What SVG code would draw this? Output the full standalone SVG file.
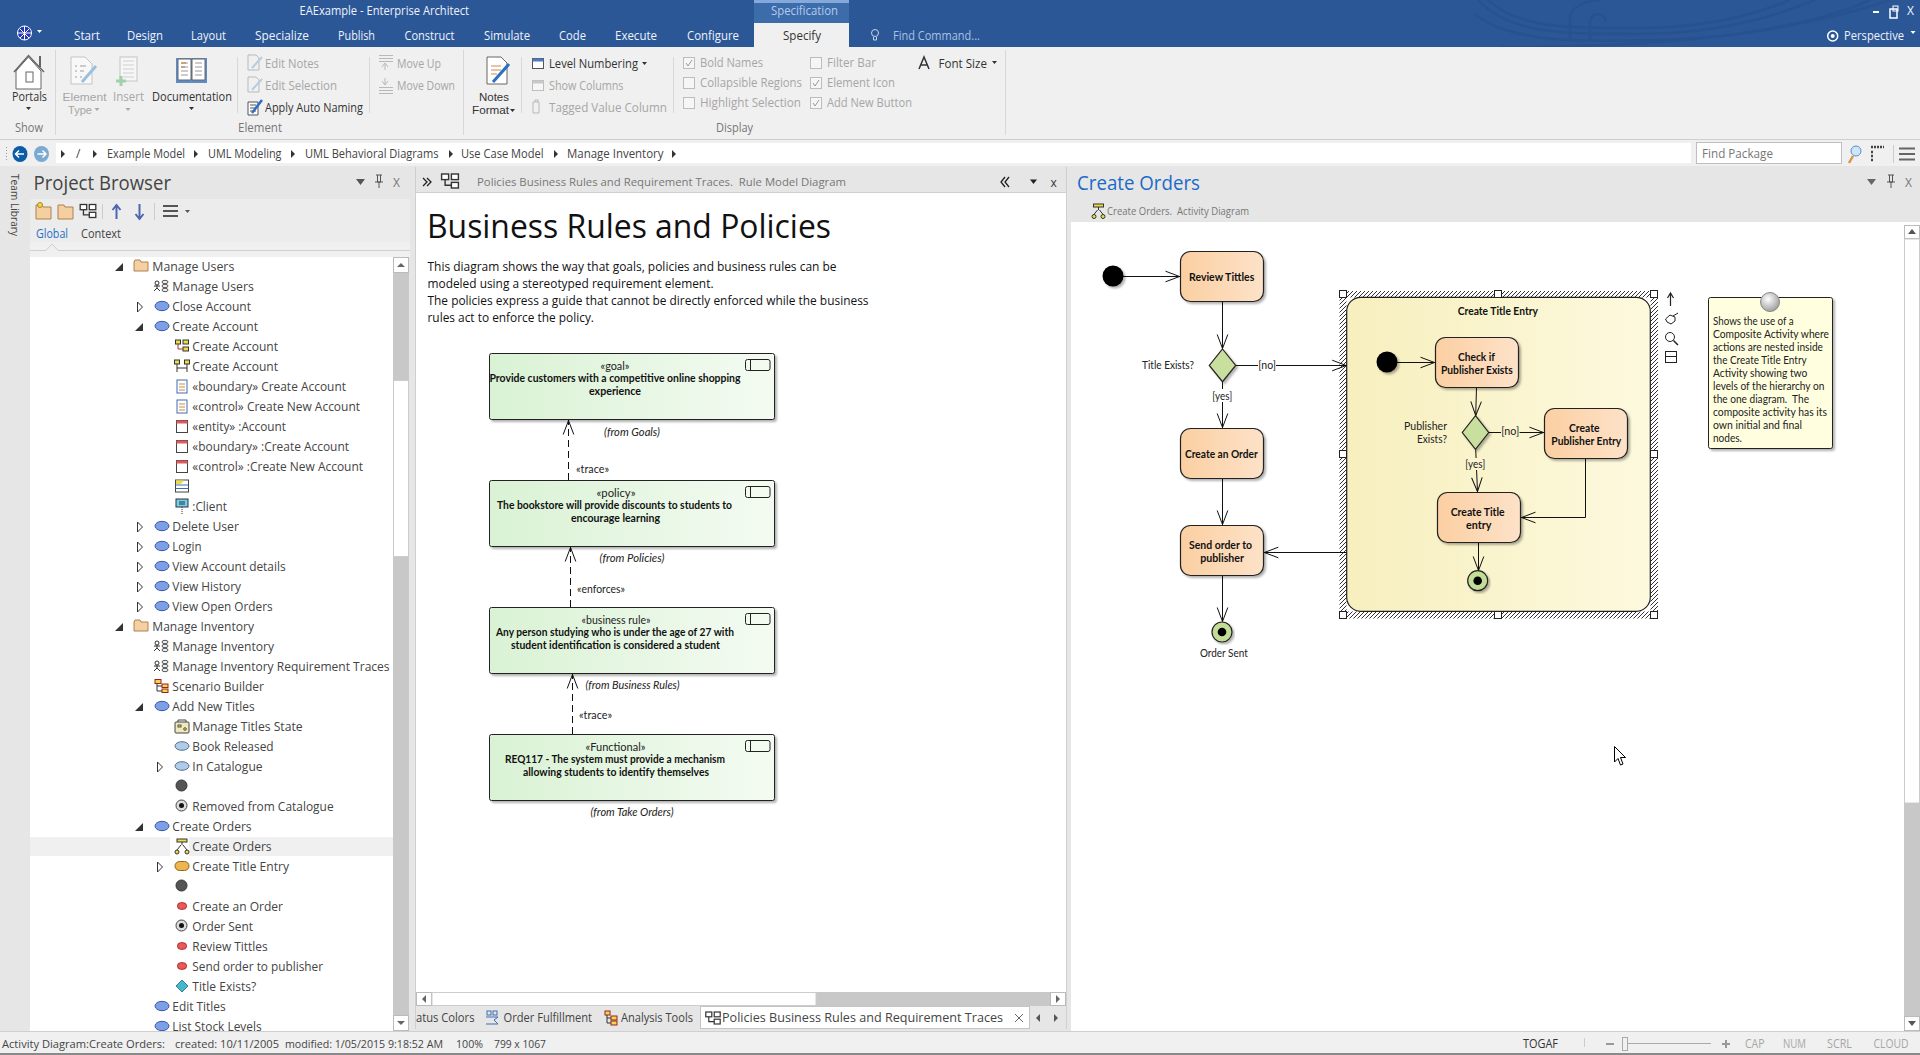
<svg xmlns="http://www.w3.org/2000/svg" width="1920" height="1055" viewBox="0 0 1920 1055">
<style>
text{font-family:"Open Sans","Noto Sans",sans-serif;font-size:12px;fill:#3c3c3c;white-space:pre}
.w{fill:#eef3fb}
.g{fill:#a6a6a6}
.m{fill:#777}
.t{fill:#444}
.ln{fill:none;stroke:#111;stroke-width:1}
.dk{fill:#333}
.sb{font-size:11px}
.two{font-family:"Liberation Sans",sans-serif;font-size:11px}
.icd{fill:none;stroke:#b9b9b9;stroke-width:1}
.cb{fill:#f6f6f6;stroke:#bdbdbd}
.n,.nb,.i{font-family:"Lato","Liberation Sans",sans-serif;fill:#111}
.n{font-size:11px;fill:#222}
.nb{font-size:11.5px;font-weight:700}
.i{font-size:11px;font-style:italic;fill:#222}
.req{fill:url(#greq);stroke:#222;stroke-width:1;filter:url(#sh)}
.act{fill:url(#gact);stroke:#222;stroke-width:1.2;filter:url(#sh)}
.dia{fill:#c9df9e;stroke:#222;stroke-width:1.2;filter:url(#sh)}
.fin{fill:#c3dd97;stroke:#222;stroke-width:1.2;filter:url(#sh)}
.hd{fill:#fff;stroke:#222;stroke-width:1}
.dep{fill:none;stroke:#111;stroke-width:1;stroke-dasharray:7 4}
</style>
<defs>
<linearGradient id="greq"><stop offset="0" stop-color="#d9f2d4"/><stop offset="1" stop-color="#f4fbf2"/></linearGradient>
<linearGradient id="gact"><stop offset="0" stop-color="#fbcfa2"/><stop offset="1" stop-color="#fde2c8"/></linearGradient>
<linearGradient id="gcmp"><stop offset="0" stop-color="#f7efbe"/><stop offset="1" stop-color="#fdf9de"/></linearGradient>
<radialGradient id="gpin" cx=".4" cy=".35" r=".7"><stop offset="0" stop-color="#fff"/><stop offset="1" stop-color="#999"/></radialGradient>
<pattern id="hatch" width="4" height="4" patternUnits="userSpaceOnUse"><path d="M-1,5 L5,-1 M-1,1 L1,-1 M3,5 L5,3" stroke="#333" stroke-width="1"/></pattern>
<filter id="sh" x="-10%" y="-10%" width="125%" height="125%"><feDropShadow dx="2" dy="2" stdDeviation="1" flood-color="#000" flood-opacity=".3"/></filter>
<marker id="op" markerUnits="userSpaceOnUse" markerWidth="18" markerHeight="14" refX="15.5" refY="7" orient="auto"><path d="M1,1.7 L15,7 L1,12.3" fill="none" stroke="#111" stroke-width="1"/></marker>
<g id="uc"><ellipse rx="7" ry="4.7" fill="#7d9fe8" stroke="#3b5a9c"/></g>
<path id="tc" d="M-2.5,-5 L2.5,0 L-2.5,5 Z" fill="#fff" stroke="#333"/>
<path id="to" d="M4,-4 L4,4 L-4,4 Z" fill="#333"/>
<g id="fld"><path d="M-7,-4 L-6,-6 L-1,-6 L0,-4 L7,-4 L7,5 L-7,5 Z" fill="#f6d0a3" stroke="#a9824f"/></g>
<g id="ucd"><circle cx="-5" cy="-3" r="2" fill="#fff" stroke="#333"/><path d="M-5,-1 V2 M-8,0 H-2 M-8,5 L-5,2 L-2,5" fill="none" stroke="#333"/><ellipse cx="3" cy="-4" rx="3" ry="1.7" fill="#eee" stroke="#555"/><ellipse cx="3" cy="0" rx="3" ry="1.7" fill="#eee" stroke="#555"/><ellipse cx="3" cy="4" rx="3" ry="1.7" fill="#eee" stroke="#555"/></g>
<g id="frm"><rect x="-5" y="-7" width="10" height="13" fill="#fff" stroke="#3f6bb3"/><path d="M-3,-3 H3 M-3,0 H3 M-3,3 H3" stroke="#c98b3d"/></g>
<g id="obj"><rect x="-5.5" y="-6.5" width="11" height="12" fill="#fff" stroke="#444"/><rect x="-5.5" y="-6.5" width="11" height="3" fill="#e05a5a"/></g>
<ellipse id="stt" rx="7" ry="4.3" fill="#afcbe9" stroke="#55708f"/>
<circle id="dot" r="5.5" fill="#555" stroke="#333"/>
<g id="fnl"><circle r="5.5" fill="#ddd" stroke="#444"/><circle r="2.5" fill="#111"/></g>
<rect id="pil" x="-4.5" y="-3.3" width="9" height="6.6" rx="3.2" fill="#ec5757" stroke="#a33"/>
<g id="pb"><rect x="-6" y="-5" width="5" height="4" fill="#fff" stroke="#333"/><rect x="1" y="-5" width="5" height="4" fill="#fff" stroke="#333"/><rect x="1" y="1" width="5" height="4" fill="#fff" stroke="#333"/><path d="M-3.5,-1 V3 H1" fill="none" stroke="#333"/></g>
</defs>

<g id="chrome-bg">
<rect width="1920" height="1055" fill="#e6e6e6"/>
<rect width="1920" height="47" fill="#2b5797"/>
<g fill="none" stroke="#28528f" stroke-width="2.5">
<path d="M1478,0 C1510,34 1560,34 1640,34 C1730,34 1790,10 1815,0"/>
<path d="M1488,0 C1520,28 1560,28 1640,28 C1720,28 1770,8 1790,0"/>
<path d="M1475,14 C1510,44 1590,42 1660,40 C1750,38 1830,18 1870,0"/>
<path d="M1500,47 C1600,47 1760,44 1890,0"/>
<path d="M1570,40 V18 C1570,8 1585,0 1600,0 M1590,40 V22 a8,8 0 0 1 16,0"/>
</g>
<rect x="754" y="0" width="95" height="23" fill="#3d6cab"/>
<rect x="754" y="0" width="95" height="3" fill="#86a9dc"/>
<rect x="754" y="23" width="95" height="24" fill="#f0f0f0"/>
<rect x="0" y="47" width="1920" height="92" fill="#f0f0f0"/>
<rect x="0" y="139" width="1920" height="1" fill="#cfcfcf"/>
<rect x="0" y="140" width="1920" height="26" fill="#f0f0f0"/>
<rect x="56" y="143" width="1635" height="20" fill="#fff"/>
<rect x="1696.5" y="142.5" width="145" height="21" fill="#fff" stroke="#bfbfbf"/>
</g>

<g id="title-bar">
<text class="w" x="299.500" y="15" textLength="169.500" lengthAdjust="spacingAndGlyphs">EAExample - Enterprise Architect</text>
<text x="771" y="15" style="fill:#b3cbea" textLength="67" lengthAdjust="spacingAndGlyphs">Specification</text>
<g fill="none" stroke="#fff"><circle cx="24.500" cy="33" r="7" fill="#2437b5"/><path d="M20,29 L29,38 M29,29 L20,38 M24.500,26 V40 M17,33 H32"/></g>
<path d="M37,30 h5 l-2.500,3 Z" fill="#fff"/>
<g class="tabs">
<text class="w" x="74" y="40" textLength="26" lengthAdjust="spacingAndGlyphs">Start</text>
<text class="w" x="127" y="40" textLength="36" lengthAdjust="spacingAndGlyphs">Design</text>
<text class="w" x="191" y="40" textLength="35" lengthAdjust="spacingAndGlyphs">Layout</text>
<text class="w" x="255" y="40" textLength="54" lengthAdjust="spacingAndGlyphs">Specialize</text>
<text class="w" x="338" y="40" textLength="37" lengthAdjust="spacingAndGlyphs">Publish</text>
<text class="w" x="404.500" y="40" textLength="50" lengthAdjust="spacingAndGlyphs">Construct</text>
<text class="w" x="484" y="40" textLength="46" lengthAdjust="spacingAndGlyphs">Simulate</text>
<text class="w" x="559" y="40" textLength="27" lengthAdjust="spacingAndGlyphs">Code</text>
<text class="w" x="615" y="40" textLength="42" lengthAdjust="spacingAndGlyphs">Execute</text>
<text class="w" x="687" y="40" textLength="52" lengthAdjust="spacingAndGlyphs">Configure</text>
<text class="dk" x="783" y="40" textLength="38" lengthAdjust="spacingAndGlyphs">Specify</text>
<text x="893" y="40" style="fill:#a9c2e4" textLength="87" lengthAdjust="spacingAndGlyphs">Find Command...</text>
</g>
<g fill="none" stroke="#c4d5ec"><circle cx="875" cy="33" r="3.500"/><path d="M873.500,37 V40 H876.500 V37"/></g>
<rect x="1873" y="11" width="6" height="2" fill="#fff"/>
<g fill="none" stroke="#fff"><rect x="1890" y="9" width="7" height="9" stroke-width="1.500"/><rect x="1893" y="6" width="5" height="5"/></g>
<text class="w" x="1907" y="15">X</text>
<g fill="none" stroke="#fff" stroke-width="1.500"><circle cx="1832.700" cy="36" r="5"/></g><circle cx="1832.700" cy="36" r="2" fill="#fff"/>
<text class="w" x="1844" y="40" textLength="60" lengthAdjust="spacingAndGlyphs">Perspective</text>
<path d="M1910.500,31 h5 l-2.500,3 Z" fill="#fff"/>
</g>

<g id="ribbon">
<path d="M55.500,50 V135 M463.500,50 V135 M1005.500,50 V135 M237.500,57 V113 M369.500,57 V113 M521.500,57 V113 M673.500,57 V113" stroke="#d8d8d8" fill="none"/>
<path d="M16,71 V89 H41 V71 L28.500,57 Z" fill="#fff" stroke="#666"/><path d="M14,72 L28.500,55.500 L44,72" fill="none" stroke="#666" stroke-width="1.500"/><path d="M40,56 V67" stroke="#666" stroke-width="2"/><rect x="26" y="72" width="7" height="10" fill="#fff" stroke="#666"/>
<path d="M71,57 H85 L92,64 V84 H71 Z" fill="#f8f8f8" stroke="#c4c4c4"/><path d="M75,66 H77 M80,66 H86 M75,71 H77 M80,71 H84 M75,77 H77 M80,77 H82" stroke="#bcbcbc" stroke-width="1.500"/><path d="M82,82 L96,66" stroke="#9cc0dc" stroke-width="3"/>
<rect x="120" y="57" width="17" height="24" fill="#f6f6f6" stroke="#c4c4c4"/><path d="M123,61 H134 M123,65 H134 M123,69 H134 M123,73 H134 M123,77 H134" stroke="#cfcfcf"/><path d="M121,76 V86 M116,81 H126" stroke="#9fd1ad" stroke-width="3"/>
<path d="M176,58 H207 V83 H176 Z" fill="#5f8cc9"/><path d="M178,59 H191 V80 H178 Z M192,59 H205 V80 H192 Z" fill="#fff" stroke="#666"/><path d="M181,63 H188 M181,67 H188 M181,71 H188 M181,75 H188 M195,63 H202 M195,67 H202 M195,71 H202 M195,75 H202" stroke="#999"/><path d="M181,63 H186 M181,67 H185" stroke="#c8743a"/>
<path d="M487,57 H501 L507,63 V84 H487 Z" fill="#fff" stroke="#666"/><path d="M491,66 H501 M491,70 H501 M491,74 H497" stroke="#d08a4c"/><path d="M493,82 L509,64" stroke="#2f6fc0" stroke-width="3"/>
<path d="M248,55 H256 L259,58 V70 H248 Z M248,77 H256 L259,80 V92 H248 Z" class="icd"/><path d="M252,68 L262,57 M252,90 L262,79" stroke="#b9cbdc" stroke-width="2"/>
<path d="M248,102 H258 V115 H248 Z" fill="#fff" stroke="#555"/><path d="M250,105 H256 M250,108 H256 M250,111 H256" stroke="#555"/><path d="M252,113 L262,100" stroke="#2f6fc0" stroke-width="2.500"/>
<path d="M379,55.500 H393 M379,58.500 H393 M379,61.500 H393 M385,70 V64 M382,67 L385,63 L388,67" class="icd"/>
<path d="M379,87.500 H393 M379,90.500 H393 M379,93.500 H393 M385,78 V84 M382,81 L385,85 L388,81" class="icd"/>
<rect x="532.500" y="58.500" width="11" height="10" fill="#fff" stroke="#555"/><rect x="532.500" y="58.500" width="11" height="3" fill="#4a7cc0"/>
<rect x="532.500" y="80.500" width="11" height="10" class="cb"/><rect x="532.500" y="80.500" width="11" height="3" fill="#c8c8c8"/>
<path d="M533,102 H539 V113 H533 Z M535,102 V100 H538 V102" class="icd"/>
<path d="M919,69 L924,57 L929,69 M921,65 H927" fill="none" stroke="#333" stroke-width="1.500"/>
<g class="dk">
<path d="M26,107 h5 l-2.500,3 Z M189,107 h5 l-2.500,3 Z"/>
<path d="M510,109 h5 l-2.500,3 Z M642,62 h5 l-2.500,3 Z M992,61 h5 l-2.500,3 Z"/>
</g>
<path d="M94.500,108 h5 l-2.500,3 Z M125.500,108 h5 l-2.500,3 Z" fill="#aaa"/>
<g class="cb"><rect x="683.500" y="57.500" width="11" height="11"/><rect x="683.500" y="77.500" width="11" height="11"/><rect x="683.500" y="97.500" width="11" height="11"/><rect x="810.500" y="57.500" width="11" height="11"/><rect x="810.500" y="77.500" width="11" height="11"/><rect x="810.500" y="97.500" width="11" height="11"/></g>
<path d="M686,63 l2,3 l4,-6 M813,83 l2,3 l4,-6 M813,103 l2,3 l4,-6" fill="none" stroke="#999"/>
<text class="dk" x="12" y="101" textLength="35" lengthAdjust="spacingAndGlyphs">Portals</text>
<text class="g two" x="62.500" y="101" textLength="44" lengthAdjust="spacingAndGlyphs">Element</text>
<text class="g two" x="68" y="114" textLength="24" lengthAdjust="spacingAndGlyphs">Type</text>
<text class="g" x="113" y="101" textLength="31" lengthAdjust="spacingAndGlyphs">Insert</text>
<text class="dk" x="152" y="101" textLength="80" lengthAdjust="spacingAndGlyphs">Documentation</text>
<text class="g" x="265" y="68" textLength="54" lengthAdjust="spacingAndGlyphs">Edit Notes</text>
<text class="g" x="265" y="90" textLength="72" lengthAdjust="spacingAndGlyphs">Edit Selection</text>
<text class="dk" x="265" y="112" textLength="98" lengthAdjust="spacingAndGlyphs">Apply Auto Naming</text>
<text class="g" x="397" y="68" textLength="44" lengthAdjust="spacingAndGlyphs">Move Up</text>
<text class="g" x="397" y="90" textLength="58" lengthAdjust="spacingAndGlyphs">Move Down</text>
<text class="dk two" x="479" y="101" textLength="30" lengthAdjust="spacingAndGlyphs">Notes</text>
<text class="dk two" x="472" y="114" textLength="37" lengthAdjust="spacingAndGlyphs">Format</text>
<text class="dk" x="549" y="68" textLength="89" lengthAdjust="spacingAndGlyphs">Level Numbering</text>
<text class="g" x="549" y="90" textLength="74.500" lengthAdjust="spacingAndGlyphs">Show Columns</text>
<text class="g" x="549" y="112" textLength="118" lengthAdjust="spacingAndGlyphs">Tagged Value Column</text>
<text class="g" x="700" y="67" textLength="63" lengthAdjust="spacingAndGlyphs">Bold Names</text>
<text class="g" x="700" y="87" textLength="102" lengthAdjust="spacingAndGlyphs">Collapsible Regions</text>
<text class="g" x="700" y="107" textLength="101" lengthAdjust="spacingAndGlyphs">Highlight Selection</text>
<text class="g" x="827" y="67" textLength="49" lengthAdjust="spacingAndGlyphs">Filter Bar</text>
<text class="g" x="827" y="87" textLength="68" lengthAdjust="spacingAndGlyphs">Element Icon</text>
<text class="g" x="827" y="107" textLength="85" lengthAdjust="spacingAndGlyphs">Add New Button</text>
<text class="dk" x="938.500" y="68" textLength="48.500" lengthAdjust="spacingAndGlyphs">Font Size</text>
<text class="m" x="15" y="132" textLength="28" lengthAdjust="spacingAndGlyphs">Show</text>
<text class="m" x="238" y="132" textLength="44" lengthAdjust="spacingAndGlyphs">Element</text>
<text class="m" x="716" y="132" textLength="37" lengthAdjust="spacingAndGlyphs">Display</text>
</g>

<g id="breadcrumb">
<path d="M6.500,147 V162" stroke="#999" stroke-dasharray="1 2"/>
<ellipse cx="20" cy="154" rx="7.500" ry="8" fill="#0b5da8"/><path d="M24,154 H16 M19,150.500 L15.500,154 L19,157.500" fill="none" stroke="#fff" stroke-width="1.500"/>
<ellipse cx="41.500" cy="154" rx="7.500" ry="8" fill="#7aaad2"/><path d="M37.500,154 H45.500 M42.500,150.500 L46,154 L42.500,157.500" fill="none" stroke="#fff" stroke-width="1.500"/>
<path d="M61,150 l4,4 l-4,4 Z M93,150 l4,4 l-4,4 Z M194,150 l4,4 l-4,4 Z M291,150 l4,4 l-4,4 Z M449,150 l4,4 l-4,4 Z M554,150 l4,4 l-4,4 Z M672,150 l4,4 l-4,4 Z" fill="#333"/>
<text class="t" x="76" y="158">/</text>
<text class="t" x="107" y="158" textLength="78" lengthAdjust="spacingAndGlyphs">Example Model</text>
<text class="t" x="208" y="158" textLength="73.500" lengthAdjust="spacingAndGlyphs">UML Modeling</text>
<text class="t" x="305" y="158" textLength="133.500" lengthAdjust="spacingAndGlyphs">UML Behavioral Diagrams</text>
<text class="t" x="461" y="158" textLength="82.500" lengthAdjust="spacingAndGlyphs">Use Case Model</text>
<text class="t" x="567" y="158" textLength="96.500" lengthAdjust="spacingAndGlyphs">Manage Inventory</text>
<text class="m" x="1702" y="158" textLength="71" lengthAdjust="spacingAndGlyphs">Find Package</text>
<circle cx="1856" cy="151" r="5" fill="#cfe4f7" stroke="#5c8fc6"/><path d="M1853,156 L1849,163" stroke="#d29a4a" stroke-width="2.500"/>
<path d="M1871,147 h13 M1871,152 h3 M1871,156 h3 M1871,160 h3" stroke="#444" stroke-width="2.500" stroke-dasharray="2 1"/>
<path d="M1893.500,145 V163" stroke="#ccc"/>
<path d="M1899,148.500 H1915 M1899,154 H1915 M1899,159.500 H1915" stroke="#666" stroke-width="2"/>
</g>

<g id="team-library-tab">
<text x="0" y="0" transform="translate(11,174) rotate(90)" class="t" style="font-size:11px" textLength="62" lengthAdjust="spacingAndGlyphs">Team Library</text>
</g>

<g id="project-browser">
<rect x="30" y="199" width="380" height="43" fill="#ececec"/>
<rect x="30" y="242" width="380" height="15" fill="#f0f0f0"/>
<path d="M30,250.500 H46 L52,244 L58,250.500 H410" fill="none" stroke="#cfcfcf"/>
<text x="33.500" y="190" style="font-size:20px;fill:#444" textLength="137.500" lengthAdjust="spacingAndGlyphs">Project Browser</text>
<path d="M356,179 h9 l-4.500,6 Z" fill="#555"/>
<path d="M376,175 h6 M377.500,175 V182 h3 V175 M375,182 h8 M379,182 V188" fill="none" stroke="#555"/>
<text class="m" x="393" y="187">X</text>
<path d="M36,205 H42 L43,207 H51 V219 H36 Z" fill="#f6cfa0" stroke="#a9824f"/><circle cx="40" cy="205" r="2.500" fill="#f2d64b" stroke="#a58b1a"/>
<path d="M58,205 H64 L65,207 H73 V219 H58 Z" fill="#f6cfa0" stroke="#a9824f"/>
<use href="#pb" transform="translate(88,211) scale(1.3)"/>
<path d="M102.500,204 V219" stroke="#ccc"/>
<path d="M116.500,219 V206 M112.500,210 L116.500,205 L120.500,210" fill="none" stroke="#4a67b0" stroke-width="2"/>
<path d="M139.500,204 V219 M135.500,214 L139.500,219 L143.500,214" fill="none" stroke="#4a67b0" stroke-width="2"/>
<path d="M154.500,203 V220" stroke="#ccc"/>
<path d="M163,206 H178 M163,211 H178 M163,216 H178" stroke="#555" stroke-width="2"/>
<path d="M185,210 h5 l-2.500,3 Z" fill="#555"/>
<text x="36" y="238" style="fill:#1e6fc8" textLength="32" lengthAdjust="spacingAndGlyphs">Global</text>
<text class="t" x="81" y="238" textLength="40" lengthAdjust="spacingAndGlyphs">Context</text>

<rect x="30" y="257" width="363" height="774" fill="#fff"/>
<rect x="393" y="257" width="16" height="774" fill="#c8c8c8"/>
<rect x="393.500" y="257.500" width="15" height="15" fill="#fff" stroke="#bbb"/><path d="M397,267 h8 l-4,-4 Z" fill="#666"/>
<rect x="393.500" y="380.500" width="15" height="176" fill="#fff" stroke="#ccc"/>
<rect x="393.500" y="1015.500" width="15" height="15" fill="#fff" stroke="#bbb"/><path d="M397,1021 h8 l-4,4 Z" fill="#666"/>
<rect x="30" y="837" width="363" height="19" fill="#f0f0f0"/>
<rect x="170" y="837" width="19" height="19" fill="#fff"/>

<g id="tree-icons">
<use href="#to" x="119" y="267"/><use href="#fld" x="141" y="266"/>
<use href="#ucd" x="162" y="286"/>
<use href="#tc" x="140" y="307"/><use href="#uc" x="162" y="306"/>
<use href="#to" x="139" y="327"/><use href="#uc" x="162" y="326"/>
<g transform="translate(182,346)"><rect x="-6.500" y="-6" width="5" height="4" fill="#e9df44" stroke="#333"/><rect x="1" y="-6" width="5.500" height="4" fill="#e9df44" stroke="#333"/><rect x="1" y="1" width="5.500" height="4" fill="#e9df44" stroke="#333"/><path d="M-4,-2 V3 H1" fill="none" stroke="#a33"/></g>
<g transform="translate(182,366)"><rect x="-7.500" y="-6" width="5" height="4" fill="#e9df44" stroke="#333"/><rect x="2.500" y="-6" width="5" height="4" fill="#e9df44" stroke="#333"/><path d="M-5,-2 V6 M5,-2 V6 M-5,2 H5" fill="none" stroke="#333"/></g>
<use href="#frm" x="182" y="387"/><use href="#frm" x="182" y="407"/>
<use href="#obj" x="182" y="427"/><use href="#obj" x="182" y="447"/><use href="#obj" x="182" y="467"/>
<g transform="translate(182,486)"><rect x="-6.500" y="-6" width="13" height="12" fill="#fff" stroke="#444"/><path d="M-6.500,-1 H6.500 M-6.500,2.500 H6.500" stroke="#3f6bb3"/><path d="M-6,-5.500 H2 L-1,-2 H-6 Z" fill="#e9df44"/></g>
<g transform="translate(182,505)"><rect x="-6" y="-6" width="12" height="8" fill="#6fd0ef" stroke="#333"/><path d="M-3,-3 H3 M-3,-1 H3" stroke="#333"/><path d="M0,2 V10" stroke="#333" stroke-dasharray="1 1"/></g>
<use href="#tc" x="140" y="527"/><use href="#uc" x="162" y="526"/>
<use href="#tc" x="140" y="547"/><use href="#uc" x="162" y="546"/>
<use href="#tc" x="140" y="567"/><use href="#uc" x="162" y="566"/>
<use href="#tc" x="140" y="587"/><use href="#uc" x="162" y="586"/>
<use href="#tc" x="140" y="607"/><use href="#uc" x="162" y="606"/>
<use href="#to" x="119" y="627"/><use href="#fld" x="141" y="626"/>
<use href="#ucd" x="162" y="646"/><use href="#ucd" x="162" y="666"/>
<g transform="translate(162,686)"><rect x="-7" y="-6.500" width="6" height="4" fill="#f2d64b" stroke="#922"/><rect x="0" y="-2" width="6" height="3.500" fill="#f2d64b" stroke="#922"/><rect x="0" y="3" width="6" height="3.500" fill="#f2d64b" stroke="#922"/><path d="M-5,-2 V5 H0 M-5,0 H0" fill="none" stroke="#333"/></g>
<use href="#to" x="139" y="707"/><use href="#uc" x="162" y="706"/>
<g transform="translate(182,727)"><rect x="-7" y="-5" width="14" height="11" rx="1" fill="#efe8bf" stroke="#444"/><path d="M-4,-5 V-7 H4 V-5" fill="none" stroke="#444"/><rect x="-4" y="-2" width="3" height="2" fill="#e9df44" stroke="#555"/><circle cx="3" cy="2" r="1.300" fill="#e9df44" stroke="#555"/></g>
<use href="#stt" x="182" y="746"/><use href="#tc" x="160" y="767"/><use href="#stt" x="182" y="766"/>
<use href="#dot" x="181.500" y="785.500"/><use href="#fnl" x="181.500" y="805.500"/>
<use href="#to" x="139" y="827"/><use href="#uc" x="162" y="826"/>
<g transform="translate(182,846)"><rect x="-5" y="-7" width="10" height="3" fill="#e9df44" stroke="#333"/><path d="M0,-4 V-1 M-1,-1 L-5,4 M1,-1 L5,4" fill="none" stroke="#333"/><circle cx="-5" cy="6" r="2" fill="#e9df44" stroke="#333"/><circle cx="5" cy="6" r="2" fill="#e9df44" stroke="#333"/></g>
<use href="#tc" x="160" y="867"/><rect x="175" y="861.500" width="14" height="9" rx="4.500" fill="#edb54e" stroke="#8a6820"/>
<use href="#dot" x="181.500" y="885.500"/><use href="#pil" x="182" y="906"/><use href="#fnl" x="181.500" y="925.500"/>
<use href="#pil" x="182" y="946"/><use href="#pil" x="182" y="966"/>
<path d="M182,980 L188,986 L182,992 L176,986 Z" fill="#46b7cf" stroke="#3a7f8f"/>
<use href="#uc" x="162" y="1006"/><use href="#uc" x="162" y="1026"/>
</g>
<g id="tree-labels">
<text class="t" x="152.300" y="271" textLength="82" lengthAdjust="spacingAndGlyphs">Manage Users</text>
<text class="t" x="172.300" y="291" textLength="81.500" lengthAdjust="spacingAndGlyphs">Manage Users</text>
<text class="t" x="172.300" y="311" textLength="78.700" lengthAdjust="spacingAndGlyphs">Close Account</text>
<text class="t" x="172.300" y="331" textLength="85.700" lengthAdjust="spacingAndGlyphs">Create Account</text>
<text class="t" x="192.300" y="351" textLength="85.700" lengthAdjust="spacingAndGlyphs">Create Account</text>
<text class="t" x="192.300" y="371" textLength="85.700" lengthAdjust="spacingAndGlyphs">Create Account</text>
<text class="t" x="192.300" y="391" textLength="153.700" lengthAdjust="spacingAndGlyphs">«boundary» Create Account</text>
<text class="t" x="192.300" y="411" textLength="167.700" lengthAdjust="spacingAndGlyphs">«control» Create New Account</text>
<text class="t" x="192.300" y="431" textLength="93.700" lengthAdjust="spacingAndGlyphs">«entity» :Account</text>
<text class="t" x="192.300" y="451" textLength="156.700" lengthAdjust="spacingAndGlyphs">«boundary» :Create Account</text>
<text class="t" x="192.300" y="471" textLength="170.700" lengthAdjust="spacingAndGlyphs">«control» :Create New Account</text>
<text class="t" x="192.300" y="511" textLength="34.700" lengthAdjust="spacingAndGlyphs">:Client</text>
<text class="t" x="172.300" y="531" textLength="66.700" lengthAdjust="spacingAndGlyphs">Delete User</text>
<text class="t" x="172.300" y="551" textLength="29.300" lengthAdjust="spacingAndGlyphs">Login</text>
<text class="t" x="172.300" y="571" textLength="113.300" lengthAdjust="spacingAndGlyphs">View Account details</text>
<text class="t" x="172.300" y="591" textLength="68.700" lengthAdjust="spacingAndGlyphs">View History</text>
<text class="t" x="172.300" y="611" textLength="100.300" lengthAdjust="spacingAndGlyphs">View Open Orders</text>
<text class="t" x="152.300" y="631" textLength="101.700" lengthAdjust="spacingAndGlyphs">Manage Inventory</text>
<text class="t" x="172.300" y="651" textLength="101.700" lengthAdjust="spacingAndGlyphs">Manage Inventory</text>
<text class="t" x="172.300" y="671" textLength="217.300" lengthAdjust="spacingAndGlyphs">Manage Inventory Requirement Traces</text>
<text class="t" x="172.300" y="691" textLength="91.700" lengthAdjust="spacingAndGlyphs">Scenario Builder</text>
<text class="t" x="172.300" y="711" textLength="82.300" lengthAdjust="spacingAndGlyphs">Add New Titles</text>
<text class="t" x="192.300" y="731" textLength="110.300" lengthAdjust="spacingAndGlyphs">Manage Titles State</text>
<text class="t" x="192.300" y="751" textLength="81.300" lengthAdjust="spacingAndGlyphs">Book Released</text>
<text class="t" x="192.300" y="771" textLength="70.300" lengthAdjust="spacingAndGlyphs">In Catalogue</text>
<text class="t" x="192.300" y="811" textLength="141.300" lengthAdjust="spacingAndGlyphs">Removed from Catalogue</text>
<text class="t" x="172.300" y="831" textLength="79.300" lengthAdjust="spacingAndGlyphs">Create Orders</text>
<text class="t" x="192.300" y="851" textLength="79.300" lengthAdjust="spacingAndGlyphs">Create Orders</text>
<text class="t" x="192.300" y="871" textLength="96.700" lengthAdjust="spacingAndGlyphs">Create Title Entry</text>
<text class="t" x="192.300" y="911" textLength="90.700" lengthAdjust="spacingAndGlyphs">Create an Order</text>
<text class="t" x="192.300" y="931" textLength="60.700" lengthAdjust="spacingAndGlyphs">Order Sent</text>
<text class="t" x="192.300" y="951" textLength="75.300" lengthAdjust="spacingAndGlyphs">Review Tittles</text>
<text class="t" x="192.300" y="971" textLength="130.700" lengthAdjust="spacingAndGlyphs">Send order to publisher</text>
<text class="t" x="192.300" y="991" textLength="64" lengthAdjust="spacingAndGlyphs">Title Exists?</text>
<text class="t" x="172.300" y="1011" textLength="53.300" lengthAdjust="spacingAndGlyphs">Edit Titles</text>
<text class="t" x="172.300" y="1031" textLength="89.300" lengthAdjust="spacingAndGlyphs">List Stock Levels</text>
</g>
</g>

<g id="center-panel">
<rect x="416" y="193" width="650" height="799" fill="#fff"/>
<path d="M415.500,167 V1029 M1066.500,167 V1029" stroke="#cfcfcf"/>
<path d="M416,192.500 H1066" stroke="#cfcfcf"/>
<path d="M423,178 L427,182 L423,186 M427,178 L431,182 L427,186" fill="none" stroke="#222" stroke-width="1.300"/>
<use href="#pb" transform="translate(450,181) scale(1.4)"/>
<text class="m" x="477" y="186" style="font-size:11.500px" textLength="369" lengthAdjust="spacingAndGlyphs">Policies Business Rules and Requirement Traces.  Rule Model Diagram</text>
<path d="M1005,177 L1001,182 L1005,187 M1009,177 L1005,182 L1009,187" fill="none" stroke="#222" stroke-width="1.300"/>
<path d="M1030,179.500 h7 l-3.500,4.500 Z" fill="#222"/>
<text class="dk" x="1050.500" y="187">x</text>
<text x="427" y="238" style="font-size:33px;fill:#111" textLength="404" lengthAdjust="spacingAndGlyphs">Business Rules and Policies</text>
<text x="427.500" y="271" style="fill:#111" textLength="409" lengthAdjust="spacingAndGlyphs">This diagram shows the way that goals, policies and business rules can be</text>
<text x="427.500" y="288" style="fill:#111" textLength="286" lengthAdjust="spacingAndGlyphs">modeled using a stereotyped requirement element.</text>
<text x="427.500" y="305" style="fill:#111" textLength="441" lengthAdjust="spacingAndGlyphs">The policies express a guide that cannot be directly enforced while the business</text>
<text x="427.500" y="322" style="fill:#111" textLength="166.500" lengthAdjust="spacingAndGlyphs">rules act to enforce the policy.</text>

<g id="rule-connectors">
<path class="dep" d="M568.500,480 V420" marker-end="url(#op)"/>
<path class="dep" d="M570.500,607 V547" marker-end="url(#op)"/>
<path class="dep" d="M572.500,734 V674" marker-end="url(#op)"/>
<text class="n" x="576" y="472.500" textLength="33" lengthAdjust="spacingAndGlyphs">«trace»</text>
<text class="n" x="577" y="592.500" textLength="48" lengthAdjust="spacingAndGlyphs">«enforces»</text>
<text class="n" x="579" y="718.500" textLength="33" lengthAdjust="spacingAndGlyphs">«trace»</text>
</g>
<g id="req-goal">
<rect class="req" x="489.500" y="353.500" width="285" height="66" rx="2"/>
<rect x="745.500" y="359.500" width="24.500" height="11" rx="2" fill="none" stroke="#222"/><path d="M750.500,359.500 V370.500" stroke="#222"/>
<text class="n" x="600.500" y="369.500" textLength="29" lengthAdjust="spacingAndGlyphs">«goal»</text>
<text class="nb" x="489.500" y="382" textLength="251" lengthAdjust="spacingAndGlyphs">Provide customers with a competitive online shopping</text>
<text class="nb" x="589" y="395" textLength="52" lengthAdjust="spacingAndGlyphs">experience</text>
<text class="i" x="604" y="435.500" textLength="56" lengthAdjust="spacingAndGlyphs">(from Goals)</text>
</g>
<g id="req-policy">
<rect class="req" x="489.500" y="480.500" width="285" height="66" rx="2"/>
<rect x="745.500" y="486.500" width="24.500" height="11" rx="2" fill="none" stroke="#222"/><path d="M750.500,486.500 V497.500" stroke="#222"/>
<text class="n" x="596.500" y="496.500" textLength="39" lengthAdjust="spacingAndGlyphs">«policy»</text>
<text class="nb" x="497" y="509" textLength="235" lengthAdjust="spacingAndGlyphs">The bookstore will provide discounts to students to</text>
<text class="nb" x="571" y="522" textLength="89" lengthAdjust="spacingAndGlyphs">encourage learning</text>
<text class="i" x="599.500" y="562" textLength="65" lengthAdjust="spacingAndGlyphs">(from Policies)</text>
</g>
<g id="req-rule">
<rect class="req" x="489.500" y="607.500" width="285" height="66" rx="2"/>
<rect x="745.500" y="613.500" width="24.500" height="11" rx="2" fill="none" stroke="#222"/><path d="M750.500,613.500 V624.500" stroke="#222"/>
<text class="n" x="581.500" y="623.500" textLength="69" lengthAdjust="spacingAndGlyphs">«business rule»</text>
<text class="nb" x="496" y="636" textLength="238" lengthAdjust="spacingAndGlyphs">Any person studying who is under the age of 27 with</text>
<text class="nb" x="511" y="649" textLength="209" lengthAdjust="spacingAndGlyphs">student identification is considered a student</text>
<text class="i" x="585.500" y="689.300" textLength="94" lengthAdjust="spacingAndGlyphs">(from Business Rules)</text>
</g>
<g id="req-functional">
<rect class="req" x="489.500" y="734.500" width="285" height="66" rx="2"/>
<rect x="745.500" y="740.500" width="24.500" height="11" rx="2" fill="none" stroke="#222"/><path d="M750.500,740.500 V751.500" stroke="#222"/>
<text class="n" x="585.500" y="750.500" textLength="60" lengthAdjust="spacingAndGlyphs">«Functional»</text>
<text class="nb" x="505" y="763" textLength="220" lengthAdjust="spacingAndGlyphs">REQ117 - The system must provide a mechanism</text>
<text class="nb" x="523" y="776" textLength="186" lengthAdjust="spacingAndGlyphs">allowing students to identify themselves</text>
<text class="i" x="590.500" y="816.300" textLength="83" lengthAdjust="spacingAndGlyphs">(from Take Orders)</text>
</g>

<g id="center-scroll">
<rect x="416" y="992" width="650" height="14" fill="#c8c8c8"/>
<rect x="416.500" y="992.500" width="15" height="13" fill="#fff" stroke="#bbb"/><path d="M426,995 l-4,4 l4,4 Z" fill="#666"/>
<rect x="432" y="992.500" width="384" height="13" fill="#fff" stroke="#ccc"/>
<rect x="1050.500" y="992.500" width="15" height="13" fill="#fff" stroke="#bbb"/><path d="M1056,995 l4,4 l-4,4 Z" fill="#666"/>
</g>
<g id="diagram-tabs">
<rect x="416" y="1006" width="650" height="23" fill="#e6e6e6"/>
<rect x="700.500" y="1006.500" width="329" height="22" fill="#fff" stroke="#c4c4c4"/>
<text class="t" x="416" y="1022" textLength="58.500" lengthAdjust="spacingAndGlyphs">atus Colors</text>
<g fill="none" stroke="#3f6bb3"><rect x="487" y="1011" width="4" height="4"/><rect x="493" y="1011" width="4" height="4"/><path d="M486,1017 H498 L494,1020 L498,1024 H486"/></g>
<text class="t" x="503.500" y="1022" textLength="88.500" lengthAdjust="spacingAndGlyphs">Order Fulfillment</text>
<g transform="translate(611,1018)"><rect x="-6" y="-7" width="5" height="4" fill="#f2d64b" stroke="#922"/><rect x="0" y="-2" width="6" height="4" fill="#f2d64b" stroke="#922"/><rect x="0" y="3" width="6" height="4" fill="#f2d64b" stroke="#922"/><path d="M-4,-3 V5 H0 M-4,0 H0" fill="none" stroke="#333"/></g>
<text class="t" x="621" y="1022" textLength="72" lengthAdjust="spacingAndGlyphs">Analysis Tools</text>
<use href="#pb" transform="translate(713,1018) scale(1.2)"/>
<text class="t" x="722" y="1022" textLength="281" lengthAdjust="spacingAndGlyphs">Policies Business Rules and Requirement Traces</text>
<path d="M1015,1014 L1023,1022 M1023,1014 L1015,1022" stroke="#666"/>
<path d="M1040,1014 l-4,4 l4,4 Z M1054,1014 l4,4 l-4,4 Z" fill="#555"/>
</g>
</g>

<g id="right-panel">
<rect x="1071" y="222" width="849" height="809" fill="#fff"/>
<text x="1077" y="190" style="font-size:20px;fill:#1a6ac9" textLength="123" lengthAdjust="spacingAndGlyphs">Create Orders</text>
<g transform="translate(1098.500,211)"><rect x="-5" y="-7" width="10" height="3" fill="#e9df44" stroke="#333"/><path d="M0,-4 V-1 M-1,-1 L-5,4 M1,-1 L5,4" fill="none" stroke="#333"/><circle cx="-4.500" cy="5.500" r="2" fill="#e9df44" stroke="#333"/><circle cx="4.500" cy="5.500" r="2" fill="#e9df44" stroke="#333"/></g>
<text class="m" x="1107" y="214.500" style="font-size:11px" textLength="142" lengthAdjust="spacingAndGlyphs">Create Orders.  Activity Diagram</text>
<path d="M1867,179 h9 l-4.500,6 Z" fill="#666"/>
<path d="M1888,175 h6 M1889.500,175 V182 h3 V175 M1887,182 h8 M1891,182 V188" fill="none" stroke="#555"/>
<text class="m" x="1905" y="187">X</text>
<rect x="1904" y="225" width="16" height="806" fill="#c8c8c8"/>
<rect x="1904" y="222" width="16" height="3" fill="#fff"/>
<rect x="1904.500" y="225.500" width="15" height="13" fill="#fff" stroke="#bbb"/><path d="M1908,234 h8 l-4,-5 Z" fill="#555"/>
<rect x="1904.500" y="239" width="15" height="564" fill="#fff" stroke="#ccc"/>
<rect x="1904.500" y="1016.500" width="15" height="14" fill="#fff" stroke="#bbb"/><path d="M1908,1021 h8 l-4,5 Z" fill="#555"/>

<g id="composite-create-title-entry">
<rect x="1339.500" y="291" width="318.500" height="6.500" fill="url(#hatch)"/>
<rect x="1339.500" y="611.500" width="318.500" height="7" fill="url(#hatch)"/>
<rect x="1339.500" y="291" width="7" height="327.500" fill="url(#hatch)"/>
<rect x="1650.500" y="291" width="7.500" height="327.500" fill="url(#hatch)"/>
<rect x="1346.700" y="297.300" width="303.600" height="314" rx="14" fill="url(#gcmp)" stroke="#222" stroke-width="1.200"/>
<text class="nb" x="1457.700" y="314.700" textLength="80.300" lengthAdjust="spacingAndGlyphs">Create Title Entry</text>
</g>
<g id="connectors">
<path class="ln" d="M1123,276.500 H1180" marker-end="url(#op)"/>
<path class="ln" d="M1222.500,301 V349" marker-end="url(#op)"/>
<path class="ln" d="M1222.500,382 V428" marker-end="url(#op)"/>
<path class="ln" d="M1222.500,478 V525" marker-end="url(#op)"/>
<path class="ln" d="M1222.500,575 V622" marker-end="url(#op)"/>
<path class="ln" d="M1236,365.500 H1346.700" marker-end="url(#op)"/>
<path class="ln" d="M1346.700,552.500 H1263.800" marker-end="url(#op)"/>
<path class="ln" d="M1397,362.500 H1435" marker-end="url(#op)"/>
<path class="ln" d="M1476.500,387 L1475.700,416" marker-end="url(#op)"/>
<path class="ln" d="M1489,432.500 H1544" marker-end="url(#op)"/>
<path class="ln" d="M1475.700,449 L1477.500,492" marker-end="url(#op)"/>
<path class="ln" d="M1585.500,458 V517.500 H1521" marker-end="url(#op)"/>
<path class="ln" d="M1478.500,542 V571" marker-end="url(#op)"/>
<rect x="1258" y="358" width="18" height="14" fill="#fff"/>
<text class="n" x="1258.300" y="369.300" textLength="17.700" lengthAdjust="spacingAndGlyphs">[no]</text>
<rect x="1212" y="389" width="21" height="13" fill="#fff"/>
<text class="n" x="1212.300" y="400" textLength="20" lengthAdjust="spacingAndGlyphs">[yes]</text>
<rect x="1501" y="425" width="18.500" height="13" fill="#fbf5d0"/>
<text class="n" x="1501.300" y="435" textLength="18" lengthAdjust="spacingAndGlyphs">[no]</text>
<rect x="1465" y="458" width="21" height="12" fill="#fbf5d0"/>
<text class="n" x="1465.300" y="468" textLength="20" lengthAdjust="spacingAndGlyphs">[yes]</text>
</g>
<g id="start-1"><circle cx="1113" cy="276" r="10.500" fill="#000" filter="url(#sh)"/></g>
<g id="review-tittles"><rect class="act" x="1180.500" y="251.500" width="83" height="50" rx="10"/><text class="nb" x="1189" y="281" textLength="65.300" lengthAdjust="spacingAndGlyphs">Review Tittles</text></g>
<g id="title-exists"><path class="dia" d="M1222.500,349 L1235.700,365.500 L1222.500,381.700 L1209.300,365.500 Z"/><text class="n" x="1142" y="369.300" textLength="52" lengthAdjust="spacingAndGlyphs">Title Exists?</text></g>
<g id="create-an-order"><rect class="act" x="1180.500" y="428.500" width="83" height="50" rx="10"/><text class="nb" x="1185" y="458" textLength="72.700" lengthAdjust="spacingAndGlyphs">Create an Order</text></g>
<g id="send-order"><rect class="act" x="1180.500" y="525.500" width="83" height="50" rx="10"/><text class="nb" x="1189" y="549" textLength="63" lengthAdjust="spacingAndGlyphs">Send order to</text><text class="nb" x="1200.300" y="562" textLength="43.700" lengthAdjust="spacingAndGlyphs">publisher</text></g>
<g id="order-sent"><circle class="fin" cx="1222" cy="632" r="10"/><circle cx="1222" cy="632" r="4.300" fill="#000"/><text class="n" x="1200" y="657.300" textLength="47.700" lengthAdjust="spacingAndGlyphs">Order Sent</text></g>
<g id="start-2"><circle cx="1387" cy="362" r="10.500" fill="#000" filter="url(#sh)"/></g>
<g id="check-publisher"><rect class="act" x="1435.500" y="337.500" width="83" height="50" rx="10"/><text class="nb" x="1458" y="360.700" textLength="37" lengthAdjust="spacingAndGlyphs">Check if</text><text class="nb" x="1441" y="374" textLength="71.700" lengthAdjust="spacingAndGlyphs">Publisher Exists</text></g>
<g id="publisher-exists"><path class="dia" d="M1475.500,415.700 L1488.700,432.500 L1475.500,449.300 L1462.300,432.500 Z"/><text class="n" x="1404" y="429.700" textLength="43" lengthAdjust="spacingAndGlyphs">Publisher</text><text class="n" x="1417" y="442.700" textLength="30" lengthAdjust="spacingAndGlyphs">Exists?</text></g>
<g id="create-publisher"><rect class="act" x="1544.500" y="408.500" width="83" height="50" rx="10"/><text class="nb" x="1569" y="432" textLength="30.500" lengthAdjust="spacingAndGlyphs">Create</text><text class="nb" x="1551.300" y="445" textLength="70" lengthAdjust="spacingAndGlyphs">Publisher Entry</text></g>
<g id="create-title"><rect class="act" x="1437.500" y="492.500" width="83" height="50" rx="10"/><text class="nb" x="1450.700" y="516" textLength="54" lengthAdjust="spacingAndGlyphs">Create Title</text><text class="nb" x="1466" y="529" textLength="25.500" lengthAdjust="spacingAndGlyphs">entry</text></g>
<g id="final-2"><circle class="fin" cx="1477.700" cy="580.700" r="10"/><circle cx="1477.700" cy="580.700" r="4.300" fill="#000"/></g>
<g id="selection-handles" class="hd">
<rect x="1339.500" y="290.500" width="7" height="7"/><rect x="1494.500" y="290.500" width="7" height="7"/><rect x="1650.500" y="290.500" width="7" height="7"/>
<rect x="1339.500" y="450.500" width="7" height="7"/><rect x="1650.500" y="450.500" width="7" height="7"/>
<rect x="1339.500" y="611.500" width="7" height="7"/><rect x="1494.500" y="611.500" width="7" height="7"/><rect x="1650.500" y="611.500" width="7" height="7"/>
</g>
<g id="quick-toolbar" fill="none" stroke="#222">
<path d="M1670.500,306 V294 M1667.500,298 L1670.500,293 L1673.500,298" stroke-width="1.200"/>
<path d="M1665.500,319 L1670,315 L1675,317 L1675,321 L1671,324 L1667,322 Z M1673,316 L1678,313"/>
<circle cx="1670" cy="337" r="4.500"/><path d="M1673.500,340.500 L1678,345" stroke-width="1.500"/>
<rect x="1665.500" y="351.500" width="11" height="11"/><path d="M1665.500,356.500 H1676.500"/>
</g>
<g id="note">
<rect x="1708.500" y="297.500" width="124" height="151" rx="2" fill="#ffffdf" stroke="#222" filter="url(#sh)"/>
<circle cx="1770" cy="302" r="9.500" fill="url(#gpin)" stroke="#888"/>
<text class="n" x="1713" y="324.700" textLength="80.700" lengthAdjust="spacingAndGlyphs">Shows the use of a</text>
<text class="n" x="1713" y="337.700" textLength="116" lengthAdjust="spacingAndGlyphs">Composite Activity where</text>
<text class="n" x="1713" y="350.700" textLength="110" lengthAdjust="spacingAndGlyphs">actions are nested inside</text>
<text class="n" x="1713" y="363.700" textLength="93.700" lengthAdjust="spacingAndGlyphs">the Create Title Entry</text>
<text class="n" x="1713" y="376.700" textLength="94.300" lengthAdjust="spacingAndGlyphs">Activity showing two</text>
<text class="n" x="1713" y="389.700" textLength="111.300" lengthAdjust="spacingAndGlyphs">levels of the hierarchy on</text>
<text class="n" x="1713" y="402.700" textLength="96" lengthAdjust="spacingAndGlyphs">the one diagram.  The</text>
<text class="n" x="1713" y="415.700" textLength="114" lengthAdjust="spacingAndGlyphs">composite activity has its</text>
<text class="n" x="1713" y="428.700" textLength="89" lengthAdjust="spacingAndGlyphs">own initial and final</text>
<text class="n" x="1713" y="441.700" textLength="29" lengthAdjust="spacingAndGlyphs">nodes.</text>
</g>
<path id="cursor" d="M1614.500,746.500 V762 L1618,758.500 L1620.500,765 L1623,764 L1620.500,757.500 L1625.500,757.500 Z" fill="#fff" stroke="#000"/>
</g>

<g id="status-bar">
<rect x="0" y="1031" width="1920" height="24" fill="#f0f0f0"/>
<rect x="0" y="1031" width="1920" height="1" fill="#cfcfcf"/>
<rect x="0" y="1053" width="1920" height="2" fill="#8a8a8a"/>
<text class="t sb" x="2" y="1048" textLength="163" lengthAdjust="spacingAndGlyphs">Activity Diagram:Create Orders:</text>
<text class="t sb" x="175" y="1048" textLength="104" lengthAdjust="spacingAndGlyphs">created: 10/11/2005</text>
<text class="t sb" x="285" y="1048" textLength="158" lengthAdjust="spacingAndGlyphs">modified: 1/05/2015 9:18:52 AM</text>
<text class="t sb" x="456" y="1048" textLength="27" lengthAdjust="spacingAndGlyphs">100%</text>
<text class="t sb" x="494" y="1048" textLength="52" lengthAdjust="spacingAndGlyphs">799 x 1067</text>
<text class="dk" x="1523" y="1048" textLength="35" lengthAdjust="spacingAndGlyphs">TOGAF</text>
<path d="M1584.500,1038 V1047" stroke="#ccc"/>
<path d="M1606,1044 H1614 M1722,1044 H1730 M1726,1040 V1048" stroke="#999" stroke-width="2"/>
<path d="M1622,1043.500 H1711" stroke="#aaa"/>
<rect x="1622.500" y="1037.500" width="5" height="13" fill="#f0f0f0" stroke="#aaa"/>
<text class="g" x="1745" y="1048" textLength="19.500" lengthAdjust="spacingAndGlyphs">CAP</text>
<text class="g" x="1783" y="1048" textLength="23" lengthAdjust="spacingAndGlyphs">NUM</text>
<text class="g" x="1827" y="1048" textLength="25" lengthAdjust="spacingAndGlyphs">SCRL</text>
<text class="g" x="1873.500" y="1048" textLength="35" lengthAdjust="spacingAndGlyphs">CLOUD</text>
</g>
</svg>
